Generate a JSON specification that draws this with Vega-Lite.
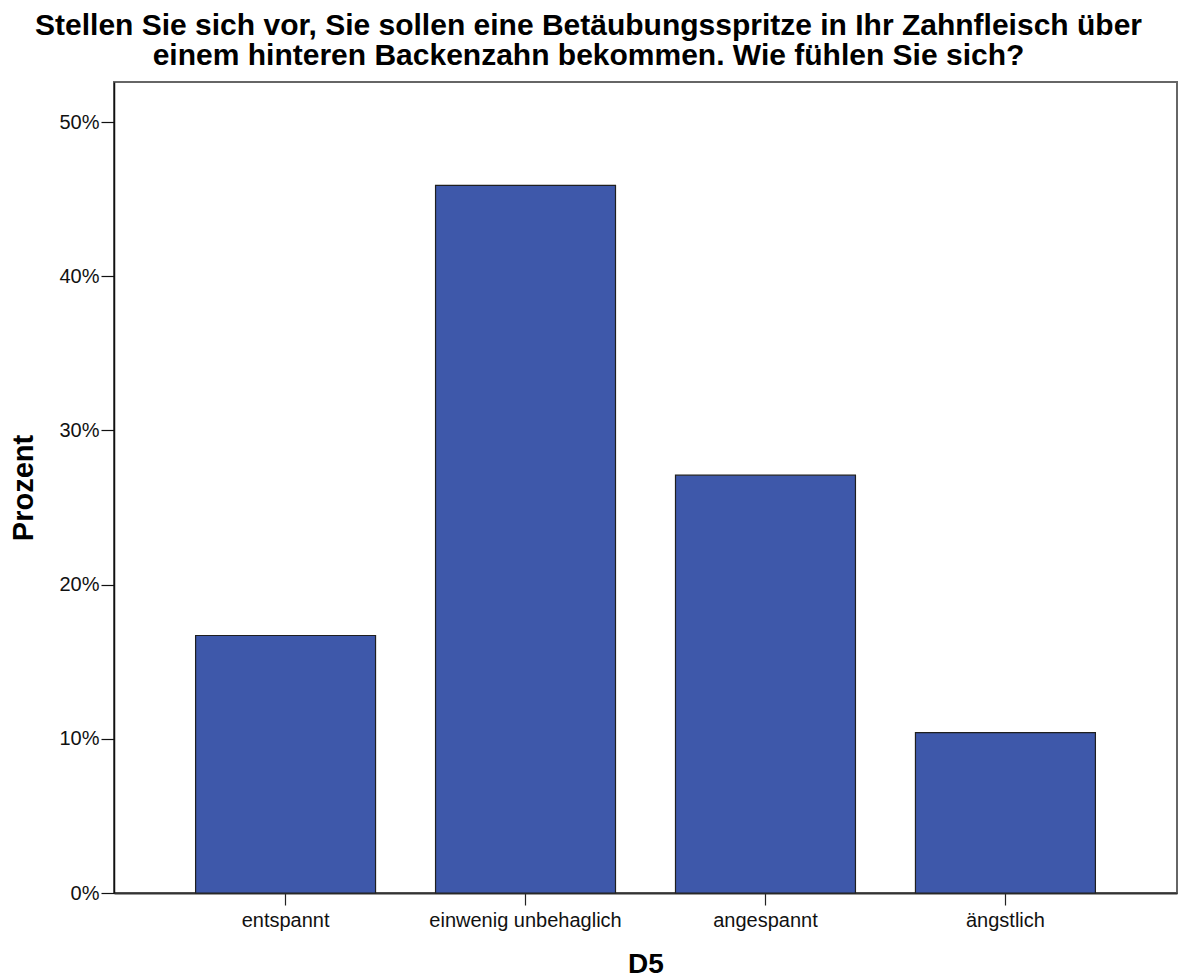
{
  "$schema": "https://vega.github.io/schema/vega-lite/v6.json",
  "width": 1063,
  "height": 811,
  "autosize": {"type": "none"},
  "padding": {"left": 114, "top": 82, "right": 1, "bottom": 86},
  "background": "white",
  "title": {
    "text": ["Stellen Sie sich vor, Sie sollen eine Betäubungsspritze in Ihr Zahnfleisch über", "einem hinteren Backenzahn bekommen. Wie fühlen Sie sich?"],
    "font": "Liberation Sans",
    "fontSize": 30,
    "fontWeight": "bold",
    "color": "#000000",
    "lineHeight": 30,
    "anchor": "middle",
    "frame": "group",
    "dx": -57,
    "offset": 11
  },
  "data": {
    "values": [
      {"D5": "entspannt", "Prozent": 0.167},
      {"D5": "einwenig unbehaglich", "Prozent": 0.459},
      {"D5": "angespannt", "Prozent": 0.271},
      {"D5": "ängstlich", "Prozent": 0.104}
    ]
  },
  "mark": {"type": "bar", "fill": "#3E58AA", "stroke": "#1f1f1f", "strokeWidth": 1.2},
  "encoding": {
    "x": {
      "field": "D5",
      "type": "nominal",
      "sort": null,
      "scale": {"paddingInner": 0.25, "paddingOuter": 0.34},
      "axis": {
        "title": "D5",
        "titleFont": "Liberation Sans",
        "titleFontSize": 28,
        "titleFontWeight": "bold",
        "titleColor": "#000",
        "titlePadding": 20,
        "labelFont": "Liberation Sans",
        "labelFontSize": 20,
        "labelColor": "#111",
        "labelAngle": 0,
        "labelPadding": 5,
        "labelLimit": 0,
        "domainColor": "#333",
        "domainWidth": 2,
        "tickColor": "#222",
        "tickSize": 12,
        "tickWidth": 1.2
      }
    },
    "y": {
      "field": "Prozent",
      "type": "quantitative",
      "scale": {"domain": [0, 0.526], "nice": false},
      "axis": {
        "title": "Prozent",
        "titleFont": "Liberation Sans",
        "titleFontSize": 29,
        "titleFontWeight": "bold",
        "titleColor": "#000",
        "titlePadding": 20,
        "values": [0, 0.1, 0.2, 0.3, 0.4, 0.5],
        "format": ".0%",
        "grid": false,
        "labelFont": "Liberation Sans",
        "labelFontSize": 20,
        "labelColor": "#111",
        "labelPadding": 2,
        "domainColor": "#111",
        "domainWidth": 1.5,
        "tickColor": "#111",
        "tickSize": 13,
        "tickWidth": 1.2
      }
    }
  },
  "config": {
    "view": {"stroke": "#666", "strokeWidth": 2}
  }
}
